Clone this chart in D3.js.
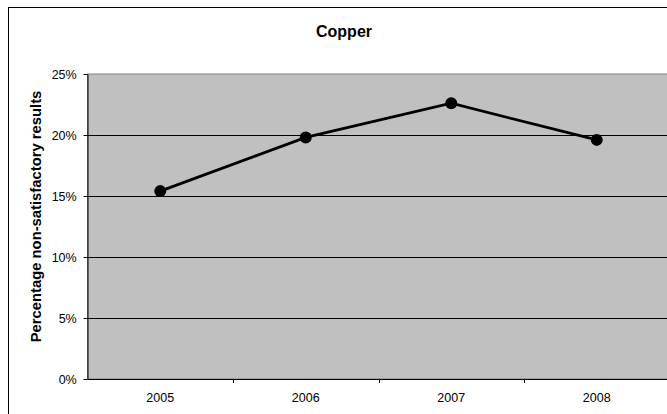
<!DOCTYPE html>
<html><head><meta charset="utf-8">
<script src="https://cdn.jsdelivr.net/npm/d3@7"></script>
<style>body{margin:0;background:#fff;overflow:hidden}svg{display:block}text{font-family:"Liberation Sans",Arial,sans-serif}</style>
</head><body>
<svg id="c" width="667" height="414"></svg>
<script>
const years = ["2005","2006","2007","2008"];
const values = [0.154, 0.198, 0.226, 0.196];
const yTicks = [0, 0.05, 0.10, 0.15, 0.20, 0.25];
const title = "Copper";
const yTitle = "Percentage non-satisfactory results";

const svg = d3.select("#c");
const m = {left: 87.5, top: 74, right: 669.5, bottom: 379};
// outer chart border
svg.append("rect").attr("x", 8.5).attr("y", 7.5).attr("width", 700).attr("height", 450)
  .attr("fill", "#fff").attr("stroke", "#000").attr("stroke-width", 1);

const x = d3.scaleBand().domain(years).range([m.left, m.right]);
const y = d3.scaleLinear().domain([0, 0.25]).range([m.bottom, m.top]);

// plot background
svg.append("rect").attr("x", m.left).attr("y", m.top).attr("width", m.right - m.left)
  .attr("height", m.bottom - m.top).attr("fill", "#c0c0c0").attr("stroke", "#808080");

// gridlines
svg.append("g").selectAll("line").data(yTicks.filter(d => d > 0 && d < 0.25)).join("line")
  .attr("x1", m.left).attr("x2", m.right)
  .attr("y1", d => Math.round(y(d)) + 0.5).attr("y2", d => Math.round(y(d)) + 0.5)
  .attr("stroke", "#000").attr("stroke-width", 1);

// y axis
const ya = svg.append("g").attr("transform", `translate(${m.left},0)`)
  .call(d3.axisLeft(y).tickValues(yTicks).tickFormat(d3.format(".0%")).tickSize(4).tickSizeOuter(0));
ya.select(".domain").attr("stroke", "#000");
ya.selectAll("text").attr("font-size", 12.5).attr("fill", "#000").attr("x", -10.8);

// x axis
const xa = svg.append("g").attr("transform", `translate(0,${m.bottom})`)
  .call(d3.axisBottom(x).tickSize(0).tickSizeOuter(0));
xa.select(".domain").attr("stroke", "#000").attr("stroke-width", 1);
xa.selectAll("text").attr("font-size", 12.5).attr("fill", "#000").attr("y", 23).attr("dy", 0);
// category boundary ticks
svg.append("g").selectAll("line").data(years.slice(1)).join("line")
  .attr("x1", d => Math.round(x(d)) + 0.5).attr("x2", d => Math.round(x(d)) + 0.5)
  .attr("y1", m.bottom).attr("y2", m.bottom + 4).attr("stroke", "#000");

// line + markers
const cx = d => x(d) + x.bandwidth() / 2;
svg.append("path").datum(years.map((yr, i) => [cx(yr), y(values[i])]))
  .attr("d", d3.line()).attr("fill", "none").attr("stroke", "#000").attr("stroke-width", 2.75);
svg.append("g").selectAll("circle").data(years).join("circle")
  .attr("cx", cx).attr("cy", (d, i) => y(values[i])).attr("r", 6).attr("fill", "#000");

// titles
svg.append("text").attr("x", 344).attr("y", 37).attr("text-anchor", "middle")
  .attr("font-size", 16).attr("font-weight", "bold").text(title);
svg.append("text").attr("transform", "translate(41,216.5) rotate(-90)").attr("text-anchor", "middle")
  .attr("font-size", 14.8).attr("font-weight", "bold").text(yTitle);
</script>
</body></html>
